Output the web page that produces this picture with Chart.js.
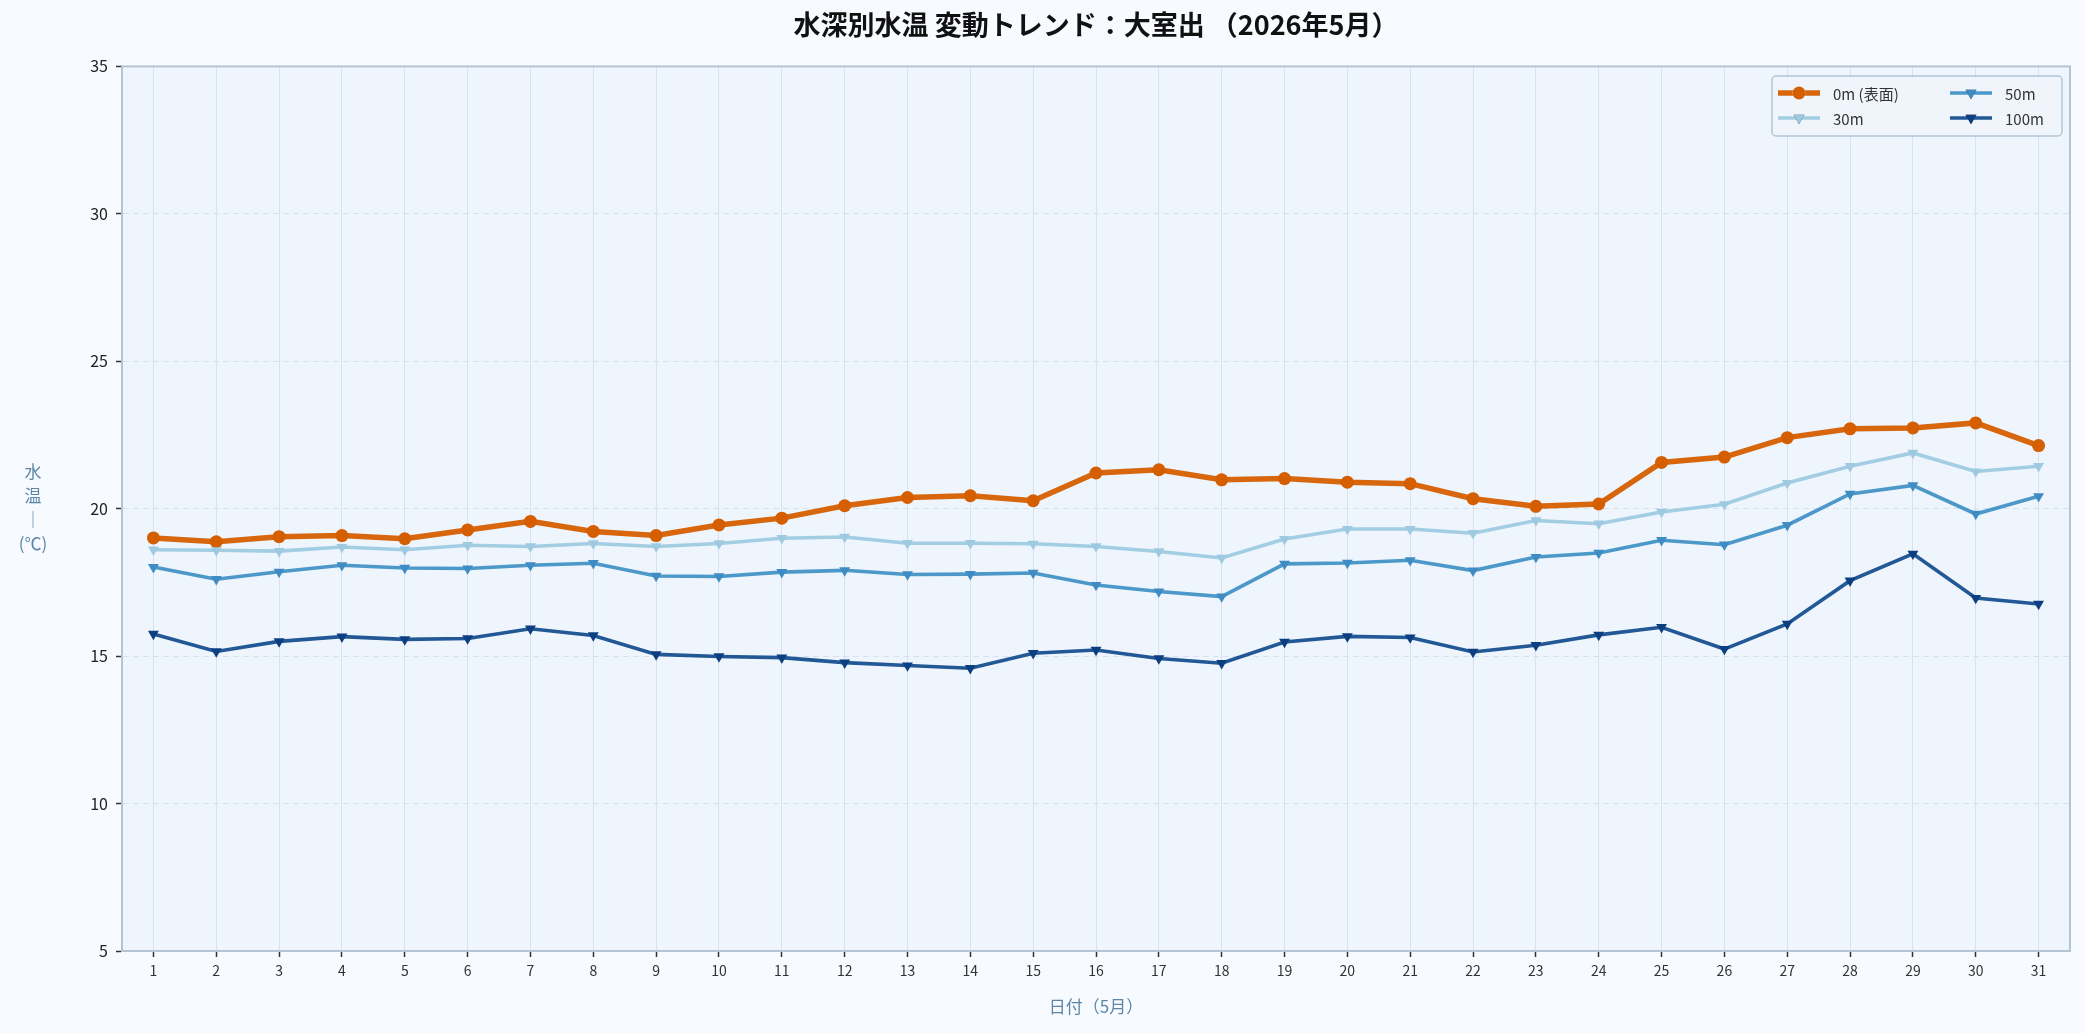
<!DOCTYPE html>
<html lang="ja">
<head>
<meta charset="utf-8">
<script src="https://cdn.jsdelivr.net/npm/chart.js@4/dist/chart.umd.min.js"></script>
<style>
html,body{margin:0;padding:0;background:#f7fbff;}
#wrap{width:2085px;height:1033px;position:relative;}
</style>
</head>
<body>
<div id="wrap"><canvas id="c" width="2085" height="1033"></canvas></div>
<script>
const days = ['1','2','3','4','5','6','7','8','9','10','11','12','13','14','15','16','17','18','19','20','21','22','23','24','25','26','27','28','29','30','31'];
const seriesNames = ['0m (表面)', '30m', '50m', '100m'];
const temp0m = [19.01,18.88,19.05,19.09,18.98,19.28,19.57,19.23,19.09,19.45,19.68,20.10,20.38,20.44,20.27,21.21,21.32,20.98,21.02,20.90,20.85,20.34,20.08,20.16,21.57,21.75,22.41,22.71,22.74,22.91,22.14];
const temp30m = [18.61,18.59,18.56,18.70,18.61,18.76,18.72,18.82,18.72,18.82,19.00,19.04,18.83,18.83,18.81,18.72,18.55,18.33,18.97,19.31,19.31,19.17,19.60,19.49,19.89,20.15,20.87,21.44,21.89,21.26,21.44];
const temp50m = [18.02,17.61,17.86,18.08,17.99,17.97,18.08,18.15,17.72,17.70,17.85,17.91,17.77,17.78,17.82,17.41,17.19,17.02,18.13,18.16,18.25,17.90,18.36,18.50,18.93,18.78,19.44,20.50,20.79,19.82,20.42];
const temp100m = [15.75,15.16,15.50,15.66,15.57,15.60,15.93,15.70,15.06,14.99,14.95,14.78,14.68,14.59,15.10,15.21,14.92,14.76,15.48,15.67,15.63,15.14,15.37,15.72,15.98,15.24,16.09,17.56,18.47,16.97,16.77];
const yTicks = [5,10,15,20,25,30,35];

const FONT = "'Noto Sans CJK JP', 'Noto Sans', sans-serif";

const lineColors = ['rgba(213,94,0,0.95)','rgba(158,202,225,0.95)','rgba(66,146,198,0.95)','rgba(16,74,140,0.92)'];
const markColors = ['#d55e00','#9ecae1','#3f8cc4','#0b3f82'];
const widths = [5.5,3.6,3.6,3.6];
const styles = ['circle','triangle','triangle','triangle'];
const radii = [6.5,6.3,6.3,6.3];
const rots = [0,180,180,180];
const allData = [temp0m,temp30m,temp50m,temp100m];

const datasets = allData.map((d,i)=>({
  label: seriesNames[i],
  data: d,
  borderColor: lineColors[i],
  backgroundColor: markColors[i],
  pointBackgroundColor: markColors[i],
  pointBorderColor: markColors[i],
  pointBorderWidth: 0,
  borderWidth: widths[i],
  pointStyle: styles[i],
  pointRadius: radii[i],
  pointRotation: rots[i],
  tension: 0,
  order: 4-i
}));

const frame = {
  id:'frame',
  beforeDraw(chart){
    const {ctx, chartArea:a} = chart;
    ctx.save();
    ctx.fillStyle = '#eff5fc';
    ctx.fillRect(a.left, a.top, a.right-a.left, a.bottom-a.top);
    ctx.restore();
  },
  afterDatasetsDraw(chart){
    const {ctx, chartArea:a} = chart;
    ctx.save();
    ctx.strokeStyle = '#b3c5d5';
    ctx.lineWidth = 2;
    ctx.strokeRect(a.left, a.top, a.right-a.left, a.bottom-a.top);
    // y-axis title (stacked)
    ctx.fillStyle = '#5d86a6';
    ctx.font = "17px " + FONT;
    ctx.textAlign = 'center';
    ctx.textBaseline = 'middle';
    const lines = ['水','温','│','(℃)'];
    const lh = 23.7;
    lines.forEach((t,k)=>{
      ctx.fillText(t, 33, 472 + k*lh);
    });
    // legend (2 columns, column-major order like the reference)
    const bx = 1772, by = 76, bw = 290, bh = 60;
    ctx.beginPath();
    if (ctx.roundRect) ctx.roundRect(bx, by, bw, bh, 4); else ctx.rect(bx,by,bw,bh);
    ctx.fillStyle = 'rgba(239,245,252,0.9)';
    ctx.fill();
    ctx.strokeStyle = '#b3c5d5';
    ctx.lineWidth = 1.5;
    ctx.stroke();
    const pos = [[1778,93],[1778,118],[1950,93],[1950,118]];
    ctx.font = "15px " + FONT;
    ctx.textAlign = 'left';
    chart.data.datasets.forEach((ds,i)=>{
      const [x,y] = pos[i];
      ctx.strokeStyle = ds.borderColor;
      ctx.lineWidth = ds.borderWidth;
      ctx.beginPath(); ctx.moveTo(x,y); ctx.lineTo(x+42,y); ctx.stroke();
      Chart.helpers.drawPoint(ctx, {pointStyle: ds.pointStyle, rotation: ds.pointRotation, radius: ds.pointRadius, borderWidth: 0}, x+21, y);
      ctx.fillStyle = ds.pointBackgroundColor;
      ctx.fill();
      ctx.fillStyle = '#333';
      ctx.fillText(ds.label, x + 55, y+1);
    });
    ctx.restore();
  }
};

new Chart(document.getElementById('c'), {
  type: 'line',
  data: { labels: days, datasets },
  options: {
    responsive: false,
    animation: false,
    layout: { padding: { left: 0, right: 15, top: 0, bottom: 0 } },
    plugins: {
      legend: { display: false },
      tooltip: { enabled: false },
      title: {
        display: true,
        fullSize: false,
        text: '水深別水温 変動トレンド：大室出 （2026年5月）',
        color: '#111',
        font: { family: FONT, size: 27, weight: 'bold' },
        padding: { top: 9, bottom: 25 }
      }
    },
    scales: {
      x: {
        type: 'category',
        offset: true,
        grid: { display: true, offset: false, color: 'rgba(200,214,228,0.6)', lineWidth: 1, tickColor: '#333', tickLength: 6, tickWidth: 1.5 },
        border: { display: true, color: '#b3c5d5', width: 2 },
        ticks: { color: '#333', font: { family: FONT, size: 14 }, padding: 5, maxRotation: 0, autoSkip: false },
        title: { display: true, text: '日付（5月）', color: '#5d86a6', font: { family: FONT, size: 17 }, padding: { top: 0, bottom: 16 } },
        afterFit(scale){ scale.height = 82; }
      },
      y: {
        min: 5, max: 35,
        afterBuildTicks(scale){ scale.ticks = yTicks.map(v=>({value:v})); },
        grid: { color: 'rgba(200,214,228,0.6)', lineWidth: 1, tickColor: '#333', tickLength: 6, tickWidth: 1.5 },
        border: { display: true, color: '#b3c5d5', width: 2, dash: [6,4] },
        ticks: { color: '#222', font: { family: FONT, size: 16 }, padding: 8 },
        afterFit(scale){ scale.width = 122; }
      }
    }
  },
  plugins: [frame]
});
</script>
</body>
</html>
